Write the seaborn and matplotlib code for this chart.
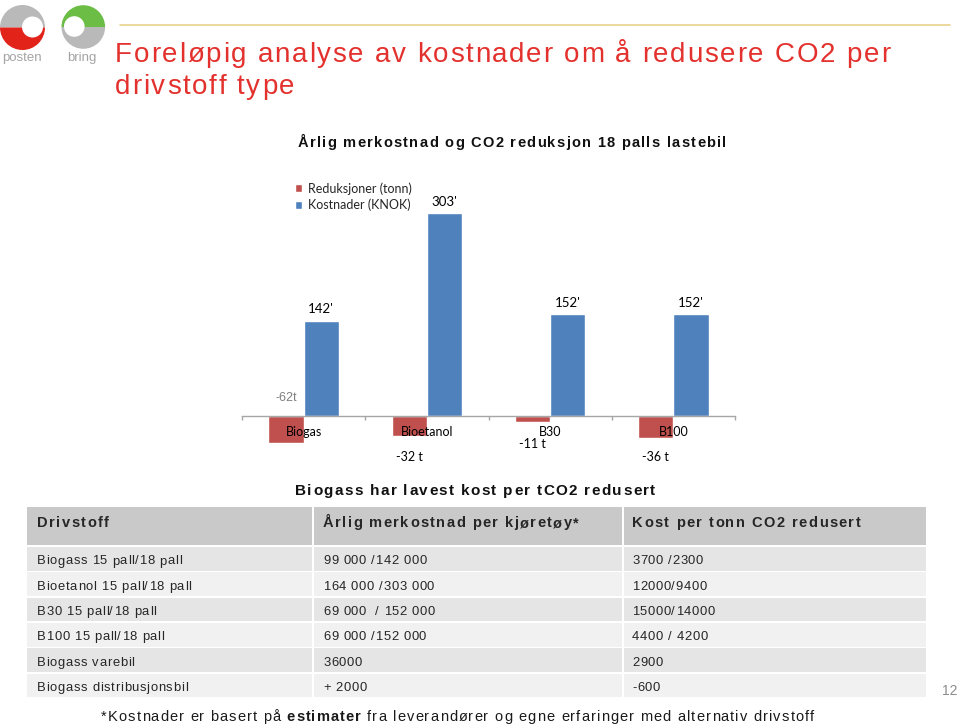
import numpy as np
import pandas as pd
import seaborn as sns
import matplotlib
matplotlib.use("Agg")
import matplotlib.pyplot as plt
from matplotlib.patches import Rectangle, Wedge, Circle

# ---------------- data ----------------
categories = ["Biogas", "Bioetanol", "B30", "B100"]
series = ["Reduksjoner (tonn)", "Kostnader (KNOK)"]
reduction_bars = [-40, -30, -9, -33]          # bar heights as drawn
reduction_labels = ["-62t", "-32 t", "-11 t", "-36 t"]
cost_values = [142, 303, 152, 152]
cost_labels = ["142'", "303'", "152'", "152'"]

table_header = ["Drivstoff", "Årlig merkostnad per kjøretøy*", "Kost per tonn CO2 redusert"]
fuel_rows = ["Biogass 15 pall/18 pall", "Bioetanol 15 pall/18 pall", "B30 15 pall/18 pall",
             "B100 15 pall/18 pall", "Biogass varebil", "Biogass distribusjonsbil"]
annual_cost = ["99 000 /142 000", "164 000 /303 000", "69 000  / 152 000",
               "69 000 /152 000", "36000", "+ 2000"]
cost_per_ton = ["3700 /2300", "12000/9400", "15000/14000", "4400 / 4200", "2900", "-600"]

title_lines = ["Foreløpig analyse av kostnader om å redusere CO2 per", "drivstoff type"]
chart_title = "Årlig merkostnad og CO2 reduksjon 18 palls lastebil"
table_title = "Biogass har lavest kost per tCO2 redusert"
footnote_parts = [("*Kostnader er basert på ", "normal"), ("estimater", "bold"),
                  (" fra leverandører og egne erfaringer med alternativ drivstoff", "normal")]
page_number = "12"

# ---------------- style ----------------
RED = "#C0504D"
BLUE = "#4F81BD"
TITLE_RED = "#E3312D"
TXT = "#262626"
FONT = "Liberation Sans"
CHART_FONT = "Lato"

sns.set_theme(style="white")
plt.rcParams["font.family"] = [FONT, "DejaVu Sans"]

W, H = 959, 725
fig = plt.figure(figsize=(W / 100, H / 100), dpi=100)
fig.patch.set_facecolor("white")
renderer = fig.canvas.get_renderer()

bg = fig.add_axes([0, 0, 1, 1], zorder=0)
bg.set_xlim(0, W)
bg.set_ylim(H, 0)
bg.axis("off")

_meas = bg.text(0, 0, "x", fontsize=10, alpha=0)


def tw(s, size, weight):
    _meas.set_text(s)
    _meas.set_fontsize(size)
    _meas.set_fontweight(weight)
    _meas.set_fontfamily(FONT)
    return _meas.get_window_extent(renderer).width


def layout(s, size, weight):
    base = tw("xx", size, weight)
    adv_x = base - tw("x", size, weight)
    offs = [tw("x" + s[:i] + "x", size, weight) - base for i in range(len(s) + 1)]
    lsb = []
    for ch in s:
        if ch == " ":
            lsb.append(0.0)
        else:
            lsb.append(tw("x" + ch, size, weight) - tw(ch, size, weight) - adv_x)
    return offs, lsb


def natural_width(s, size, weight="normal"):
    offs, _ = layout(s, size, weight)
    return offs[-1]


def tracked(x, y, s, size, weight="normal", color=TXT, width=None, spacing=0.0, ha="left"):
    """Draw text with letter spacing; y is the baseline (pixels)."""
    offs, lsb = layout(s, size, weight)
    n = len(s)
    if width is not None:
        spacing = (width - offs[-1]) / max(n - 1, 1)
    total = offs[-1] + spacing * (n - 1)
    if ha == "center":
        x = x - total / 2
    for i, ch in enumerate(s):
        if ch == " ":
            continue
        bg.text(x + offs[i] + lsb[i] + i * spacing, y, ch, fontsize=size, fontweight=weight,
                family=FONT, color=color, ha="left", va="baseline")
    return total + spacing, spacing


# ---------------- logos ----------------
def logo(cx, cy, r, top, bottom, hole_dx, hole_r, name, name_x):
    bg.add_patch(Wedge((cx, cy), r, 180, 360, color=top, lw=0))
    bg.add_patch(Wedge((cx, cy), r, 0, 180, color=bottom, lw=0))
    bg.add_patch(Circle((cx + hole_dx, cy - 0.5), hole_r, color="white", lw=0))
    bg.text(name_x, 58, name, ha="center", va="center", color="#A4A4A4", fontsize=9.5,
            family=FONT)


logo(22.5, 27.5, 22.5, "#B9B9B9", "#E2231A", 10, 10.5, "posten", 22)
logo(83.3, 27, 21.8, "#6CBD45", "#B9B9B9", -9, 10.3, "bring", 82)
bg.plot([120, 950], [25, 25], color="#EAD28E", lw=1.2)

# ---------------- titles ----------------
_, sp = tracked(115, 62, title_lines[0], 20, color=TITLE_RED, width=775)
tracked(115, 94, title_lines[1], 20, color=TITLE_RED, spacing=sp)

tracked(298, 147, chart_title, 10.5, weight="bold", color="#111111", width=428)

# ---------------- chart ----------------
ax = fig.add_axes([242 / W, 1 - 470 / H, 493 / W, 300 / H], zorder=2)
ax.patch.set_alpha(0)
df = pd.DataFrame({
    "Drivstoff": categories * 2,
    "Serie": [series[0]] * len(categories) + [series[1]] * len(categories),
    "Verdi": reduction_bars + cost_values,
})
sns.barplot(data=df, x="Drivstoff", y="Verdi", hue="Serie", hue_order=series,
            palette=[RED, BLUE], width=0.57, saturation=1, ax=ax, legend=True)
ax.set_xlim(-0.5, len(categories) - 0.5)
ax.set_ylim(-80.7, 367.7)
ax.set_xlabel("")
ax.set_ylabel("")
ax.set_yticks([])
for s in ["top", "left", "right"]:
    ax.spines[s].set_visible(False)
ax.spines["bottom"].set_position(("data", 0))
ax.spines["bottom"].set_color("#A6A6A6")
ax.spines["bottom"].set_linewidth(1)
ax.set_axisbelow(False)
ax.set_xticks(np.arange(-0.5, len(categories)), minor=True)
ax.tick_params(axis="x", which="major", length=0, pad=7.5, labelsize=9, labelcolor="black", bottom=True)
ax.tick_params(axis="x", which="minor", length=3, width=1, color="#A6A6A6", direction="out", bottom=True)
for lab in ax.get_xticklabels():
    lab.set_fontfamily(CHART_FONT)

ax.bar_label(ax.containers[1], labels=cost_labels, padding=4, fontsize=9.5, family=CHART_FONT, color="black")

red_label_offsets = [18, -41, -28, -41]  # pixels from baseline
red_label_colors = ["#7F7F7F", "black", "black", "black"]
red_label_fonts = [FONT, CHART_FONT, CHART_FONT, CHART_FONT]
for p, lab, off, c, f in zip(ax.containers[0], reduction_labels, red_label_offsets,
                             red_label_colors, red_label_fonts):
    ax.annotate(lab, xy=(p.get_x() + p.get_width() / 2, 0), xytext=(0, off),
                textcoords="offset pixels", ha="center", va="center",
                fontsize=9, color=c, family=f)

sns.move_legend(ax, "upper left", bbox_to_anchor=((295 - 242) / 493, (470 - 182) / 300),
                frameon=False, title=None, prop={"family": CHART_FONT, "size": 9},
                handlelength=0.55, handleheight=0.55, handletextpad=0.45,
                labelspacing=0.35, borderpad=0, borderaxespad=0)

# ---------------- table ----------------
tracked(475, 495, table_title, 11, weight="bold", color="#111111", width=360, ha="center")

col_bounds = [(27, 312), (314, 622), (624, 926)]
text_x = [37, 323, 632]
for x0, x1 in col_bounds:
    bg.add_patch(Rectangle((x0, 507), x1 - x0, 38, color="#C9C9C9", lw=0))

hdr_size = 10.5
hdr_sp = (256 - natural_width(table_header[1], hdr_size, "bold")) / (len(table_header[1]) - 1)
for x, s in zip(text_x, table_header):
    tracked(x, 527, s, hdr_size, weight="bold", color=TXT, spacing=hdr_sp)

row_pitch = 25.3
row_size = 9.4
row_sp = (145 - natural_width(fuel_rows[0], row_size)) / (len(fuel_rows[0]) - 1)
for i, row in enumerate(zip(fuel_rows, annual_cost, cost_per_ton)):
    top = 547 + row_pitch * i
    color = "#E5E5E5" if i % 2 == 0 else "#F1F1F1"
    for x0, x1 in col_bounds:
        bg.add_patch(Rectangle((x0, top), x1 - x0, 23.8, color=color, lw=0))
    for x, s in zip(text_x, row):
        tracked(x, 564.5 + row_pitch * i, s, row_size, color=TXT, spacing=row_sp)

# ---------------- footnote ----------------
foot_size = 10.5
nat = sum(natural_width(s, foot_size, w) for s, w in footnote_parts)
nchar = sum(len(s) for s, _ in footnote_parts)
foot_sp = (713 - nat) / (nchar - 1)
cur = 101
for s, w in footnote_parts:
    adv, _ = tracked(cur, 721, s, foot_size, weight=w, color="#1A1A1A", spacing=foot_sp)
    cur += adv

bg.text(950, 691, page_number, ha="center", va="center", color="#8C8C8C", fontsize=10, family=FONT)

fig.savefig("out.png", dpi=100, facecolor="white")
